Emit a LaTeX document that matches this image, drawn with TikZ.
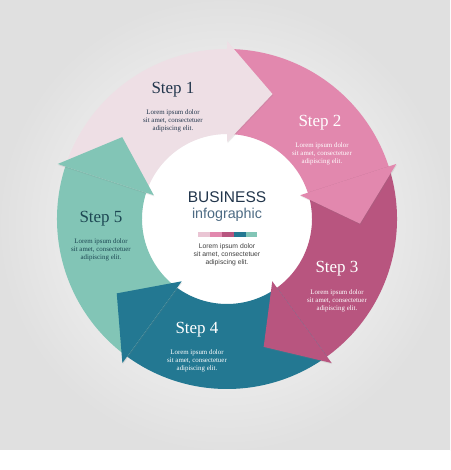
\documentclass[tikz,border=0pt]{standalone}
\usepackage{fontspec}
\setmainfont{Liberation Serif}
\setsansfont{Liberation Sans}
\usetikzlibrary{shadows}

\definecolor{stepA}{HTML}{EEDFE5}
\definecolor{stepB}{HTML}{E288AE}
\definecolor{stepC}{HTML}{B8557F}
\definecolor{stepD}{HTML}{237892}
\definecolor{stepE}{HTML}{82C5B6}
\definecolor{darktext}{HTML}{22364C}
\definecolor{tealtext}{HTML}{1D4753}
\definecolor{slatetext}{HTML}{4D6B84}

\begin{document}
\begin{tikzpicture}[x=1pt, y=1pt,
    title/.style={font=\fontsize{17}{17}\selectfont},
    blurb/.style={font=\fontsize{6.9}{8.3}\selectfont, align=center},
    head/.style={drop shadow={opacity=0.16, shadow xshift=0.6pt, shadow yshift=-1.2pt}}]
    % background
    \shade[inner color=white, outer color=black!12] (-227,-231) rectangle (223,219);
    \fill[white] (-227,-251) rectangle (223,-231);
    \useasboundingbox (-227,-251) rectangle (223,219);
    \fill[white] (0,0) circle (85);
    % ring parts, clockwise from the top
    \fill[stepA] (162:85) -- (162:170) arc[start angle=162, end angle=90, radius=170] -- (90:85) arc[start angle=90, end angle=162, radius=85] -- cycle;
    \fill[stepB] (90:85) -- (90:170) arc[start angle=90, end angle=18, radius=170] -- (18:85) arc[start angle=18, end angle=90, radius=85] -- cycle;
    \fill[stepC] (18:85) -- (18:170) arc[start angle=18, end angle=-54, radius=170] -- (-54:85) arc[start angle=-54, end angle=18, radius=85] -- cycle;
    \fill[stepD] (-54:85) -- (-54:170) arc[start angle=-54, end angle=-126, radius=170] -- (-126:85) arc[start angle=-126, end angle=-54, radius=85] -- cycle;
    \fill[stepE] (-126:85) -- (-126:170) arc[start angle=-126, end angle=-198, radius=170] -- (-198:85) arc[start angle=-198, end angle=-126, radius=85] -- cycle;
    % arrow heads
    \fill[stepA, head] (90:77) -- (70:133) -- (90:178) -- cycle;
    \fill[stepB, head] (18:77) -- (-2:133) -- (18:178) -- cycle;
    \fill[stepC, head] (-54:77) -- (-74:133) -- (-54:178) -- cycle;
    \fill[stepD, head] (-126:77) -- (-146:133) -- (-126:178) -- cycle;
    \fill[stepE, head] (162:77) -- (142:133) -- (162:178) -- cycle;
    % texts
    \node[title, darktext] (t1) at (-54,129) {Step 1};
    \node[blurb, darktext] (b1) at (-54,98) {Lorem ipsum dolor\\sit amet, consectetuer\\adipiscing elit.};
    \node[title, white] (t2) at (93,96) {Step 2};
    \node[blurb, white] (b2) at (95,65) {Lorem ipsum dolor\\sit amet, consectetuer\\adipiscing elit.};
    \node[title, white] (t3) at (110,-50) {Step 3};
    \node[blurb, white] (b3) at (110,-82) {Lorem ipsum dolor\\sit amet, consectetuer\\adipiscing elit.};
    \node[title, white] (t4) at (-30,-111) {Step 4};
    \node[blurb, white] (b4) at (-30,-142) {Lorem ipsum dolor\\sit amet, consectetuer\\adipiscing elit.};
    \node[title, tealtext] (t5) at (-126,0) {Step 5};
    \node[blurb, tealtext] (b5) at (-126,-31) {Lorem ipsum dolor\\sit amet, consectetuer\\adipiscing elit.};
    % centre
    \node[font=\sffamily\fontsize{15.5}{15.5}\selectfont, darktext] (biz) at (0,22) {BUSINESS};
    \node[font=\sffamily\fontsize{14.3}{14.3}\selectfont, slatetext] (info) at (0,4) {infographic};
    \fill[stepA!70!stepB] (-29,-13) rectangle (-17,-18);
    \fill[stepB] (-17,-13) rectangle (-5,-18);
    \fill[stepC] (-5,-13) rectangle (7,-18);
    \fill[stepD] (7,-13) rectangle (19,-18);
    \fill[stepE] (19,-13) rectangle (30,-18);
    \node[font=\sffamily\fontsize{6.8}{8.2}\selectfont, align=center, black!75] (bc) at (0,-36) {Lorem ipsum dolor\\sit amet, consectetuer\\adipiscing elit.};
\end{tikzpicture}
\end{document}
